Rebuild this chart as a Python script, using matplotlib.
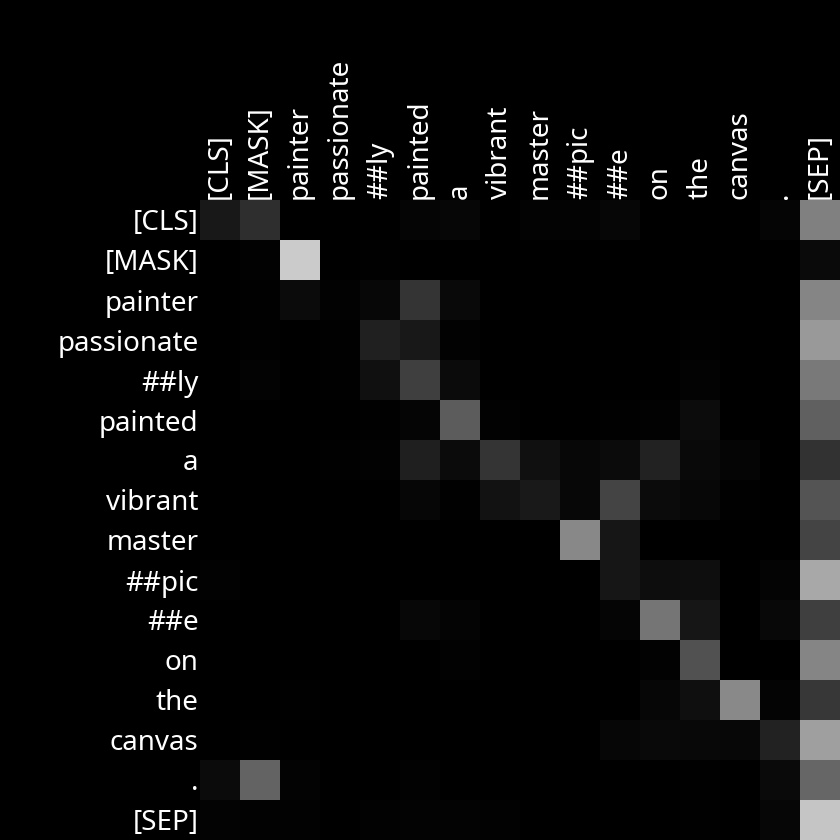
import numpy as np
import matplotlib.pyplot as plt

plt.rcParams['font.family'] = ['Noto Sans', 'DejaVu Sans']

tokens = ['[CLS]', '[MASK]', 'painter', 'passionate', '##ly', 'painted', 'a',
          'vibrant', 'master', '##pic', '##e', 'on', 'the', 'canvas', '.', '[SEP]']

# attention weights (grey level 0-255)
row_cls        = [24, 46, 0, 0, 0, 5, 6, 0, 3, 3, 6, 0, 0, 0, 5, 128]
row_mask       = [0, 2, 203, 0, 1, 0, 0, 0, 0, 0, 0, 0, 0, 0, 0, 10]
row_painter    = [0, 1, 11, 2, 7, 53, 9, 0, 0, 0, 0, 0, 0, 0, 0, 133]
row_passionate = [0, 1, 0, 1, 32, 24, 2, 0, 0, 0, 0, 0, 1, 0, 0, 153]
row_ly         = [0, 3, 0, 1, 16, 63, 11, 0, 0, 0, 0, 0, 3, 0, 0, 121]
row_painted    = [0, 0, 0, 0, 1, 5, 92, 2, 0, 0, 1, 2, 12, 0, 0, 96]
row_a          = [0, 0, 0, 1, 2, 31, 11, 53, 16, 7, 11, 34, 9, 5, 0, 50]
row_vibrant    = [0, 0, 0, 0, 0, 6, 1, 18, 25, 7, 68, 11, 7, 1, 0, 84]
row_master     = [0, 0, 0, 0, 0, 0, 0, 0, 0, 136, 22, 0, 0, 0, 0, 68]
row_pic        = [2, 0, 0, 0, 0, 0, 0, 0, 0, 0, 22, 13, 14, 0, 4, 168]
row_e          = [0, 0, 0, 0, 0, 7, 4, 0, 0, 0, 5, 117, 22, 0, 8, 63]
row_on         = [0, 0, 0, 0, 0, 0, 2, 0, 0, 0, 0, 2, 82, 0, 0, 133]
row_the        = [0, 0, 1, 0, 0, 0, 0, 0, 0, 0, 0, 6, 15, 137, 4, 55]
row_canvas     = [0, 1, 0, 0, 0, 0, 0, 0, 0, 0, 6, 9, 8, 7, 34, 159]
row_dot        = [11, 99, 3, 0, 0, 2, 0, 0, 0, 0, 0, 0, 1, 0, 10, 102]
row_sep        = [3, 2, 2, 0, 2, 3, 3, 2, 0, 0, 0, 0, 1, 0, 6, 197]

attn = np.array([row_cls, row_mask, row_painter, row_passionate, row_ly,
                 row_painted, row_a, row_vibrant, row_master, row_pic, row_e,
                 row_on, row_the, row_canvas, row_dot, row_sep]) / 255.0

fig = plt.figure(figsize=(8.4, 8.4), dpi=100, facecolor='black')
ax = fig.add_axes([200 / 840, 0, 640 / 840, 640 / 840])
ax.imshow(attn, cmap='gray', vmin=0, vmax=1, aspect='auto', interpolation='nearest')

ax.set_xticks(range(len(tokens)))
ax.set_yticks(range(len(tokens)))
ax.set_xticklabels(tokens, rotation=90, color='white', fontsize=20)
ax.set_yticklabels(tokens, color='white', fontsize=20)
ax.xaxis.tick_top()
ax.tick_params(length=0, pad=1)
for s in ax.spines.values():
    s.set_visible(False)

fig.savefig('out.png', facecolor='black')
